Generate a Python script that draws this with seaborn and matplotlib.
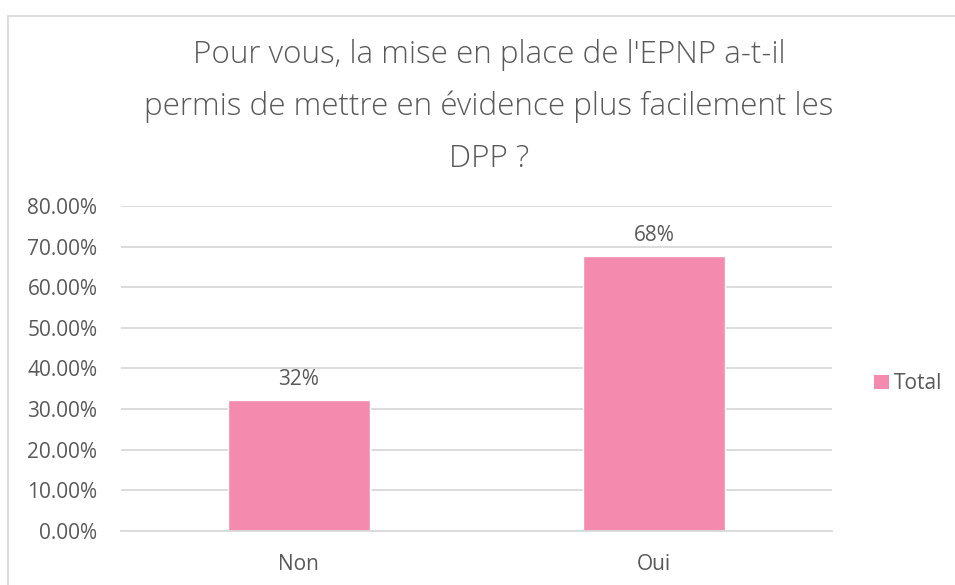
import matplotlib
matplotlib.use("Agg")
import matplotlib.pyplot as plt
import seaborn as sns
import pandas as pd
from matplotlib.patches import Rectangle
from matplotlib.patches import Patch

categories = ["Non", "Oui"]
values = [0.322, 0.678]
value_labels = ["32%", "68%"]
yticks = [0.0, 0.1, 0.2, 0.3, 0.4, 0.5, 0.6, 0.7, 0.8]
ytick_labels = ["0.00%", "10.00%", "20.00%", "30.00%", "40.00%", "50.00%", "60.00%", "70.00%", "80.00%"]
series_name = "Total"
title = "Pour vous, la mise en place de l'EPNP a-t-il\npermis de mettre en évidence plus facilement les\nDPP ?"

sns.set_theme(style="white")
plt.rcParams['font.family'] = ['Open Sans', 'DejaVu Sans']

PINK = "#F48AAE"
GRID = "#D9D9D9"
TXT = "#595959"
FS = 15

df = pd.DataFrame({"cat": categories, "val": values})

fig = plt.figure(figsize=(9.55, 5.85), dpi=100)
ax = fig.add_axes([0.1267, 0.0928, 0.7445, 0.5546])

sns.barplot(data=df, x="cat", y="val", color=PINK, width=0.4, saturation=1, ax=ax, legend=False)

ax.set_ylim(0, 0.8)
ax.set_yticks(yticks)
ax.set_yticklabels(ytick_labels)
ax.set_xlim(-0.5, 1.5)
ax.grid(axis="y", color=GRID, linewidth=1.3)
ax.set_axisbelow(True)
for s in ["top", "right", "left"]:
    ax.spines[s].set_visible(False)
ax.spines["bottom"].set_color(GRID)
ax.spines["bottom"].set_linewidth(1.3)
ax.tick_params(axis="both", length=0, labelsize=FS, colors=TXT)
ax.tick_params(axis="y", pad=17)
ax.tick_params(axis="x", pad=17)
ax.set_xlabel("")
ax.set_ylabel("")

for i, (v, lab) in enumerate(zip(values, value_labels)):
    ax.annotate(lab, (i, v), xytext=(0, 7), textcoords="offset points",
                ha="center", va="bottom", fontsize=FS, color=TXT)

leg = ax.legend(handles=[Patch(facecolor=PINK, edgecolor="none", label=series_name)],
                loc="center left", bbox_to_anchor=(1.0 + 42 / 711, 0.453), frameon=False,
                fontsize=FS, handlelength=0.7, handleheight=0.7, handletextpad=0.25,
                borderaxespad=0, borderpad=0)
for t in leg.get_texts():
    t.set_color(TXT)

fig.text(489 / 955, 1 - 107 / 585, title, ha="center", va="center", fontsize=22.6, color=TXT,
         linespacing=1.8, fontweight="light")

fig.patches.append(Rectangle((8 / 955, -0.05), 1.0, 1.05 - 16.5 / 585, transform=fig.transFigure,
                             fill=False, edgecolor=GRID, linewidth=1.3, figure=fig))

fig.savefig("out.png", dpi=100, facecolor="white")
